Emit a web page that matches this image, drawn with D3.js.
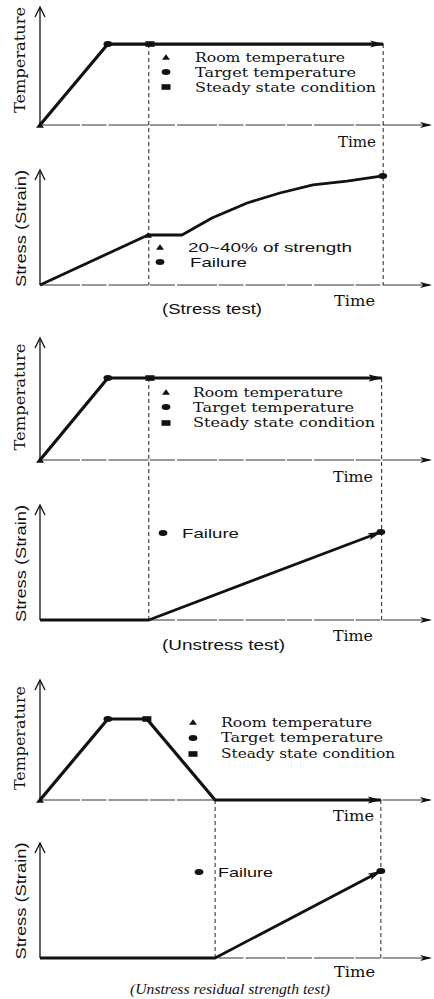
<!DOCTYPE html>
<html><head><meta charset="utf-8">
<script src="https://cdn.jsdelivr.net/npm/d3@7/dist/d3.min.js"></script>
<style>body{margin:0;background:#fff}</style>
</head><body>
<script>
// ---------- data (time 0..100, level 0..100 of each panel's axis) ----------
const timeDomain = [0, 100];
const levelDomain = [0, 100];
const tempStress     = [[0,0],[17.4,68.6],[28.2,68.6],[88,68.6]];
const tempStressKinds = ["triangle","circle","square",null];
const strainStress   = [[0,0],[27.7,43.5],[36.4,43.5],[44.1,58.3],[53.1,71.3],[61.5,80],[70,87],[78.7,90.4],[87.9,94.8]];
const strainStressKinds = [null,"triangle",null,null,null,null,null,null,"circle"];
const tempUnstress   = [[0,0],[17.4,67.2],[28.2,67.2],[87.6,67.2]];
const tempUnstressKinds = ["triangle","circle","square",null];
const strainUnstress = [[0,0],[27.9,0],[87.4,76.5]];
const strainUnstressKinds = [null,null,"circle"];
const tempResidual   = [[0,0],[17.4,67.5],[27.4,67.5],[44.9,0],[87.4,0]];
const tempResidualKinds = ["triangle","circle","square",null,null];
const strainResidual = [[0,0],[44.9,0],[87.4,75.7]];
const strainResidualKinds = [null,null,"circle"];
const guideTimes = [[27.9,88],[27.9,87.6],[44.9,87.4]];
const tempLegend = ["Room temperature","Target temperature","Steady state condition"];
const tempLegendSymbols = ["triangle","circle","square"];
const stressLegend = ["20~40% of strength","Failure"];
const stressLegendSymbols = ["triangle","circle"];
const failureLegend = ["Failure"];
const failureLegendSymbols = ["circle"];
const captions = ["(Stress test)","(Unstress test)","(Unstress residual strength test)"];
const axisLabels = ["Temperature","Stress (Strain)","Time"];

// ---------- layout ----------
const W = 434, H = 999;
const INK = "#111";
const SERIF = "'DejaVu Serif', serif";
const SERIF2 = "'Liberation Serif', 'Times New Roman', serif";
const SANS = "'Liberation Sans', Arial, sans-serif";
const svg = d3.select("body").append("svg").attr("width", W).attr("height", H);
const x = d3.scaleLinear().domain(timeDomain).range([40, 430]);

const defs = svg.append("defs");
defs.append("marker").attr("id","arrowT").attr("markerUnits","userSpaceOnUse")
  .attr("viewBox","0 0 14 8").attr("markerWidth",14).attr("markerHeight",8)
  .attr("refX",13).attr("refY",4).attr("orient","auto")
  .append("path").attr("d","M0,0.5 L14,4 L0,7.5 L3,4 Z").attr("fill",INK);

const panels = [
  { temp: tempStress, tempKinds: tempStressKinds, tBox: [125, 7],
    strain: strainStress, strainKinds: strainStressKinds, sBox: [285, 170], strainArrow: false,
    guides: guideTimes[0],
    tLegX: 166, tLegY: [57,72,87], tTextX: 195, tTextY: [62,77,92], tTextW: [150,161,181],
    sLeg: stressLegend, sLegSym: stressLegendSymbols, sLegX: 160, sLegY: [247,262],
    sTextX: [188,190], sTextY: [252,267], sTextW: [164,57],
    tTime: [338,376,146.5], sTime: [334,375,306],
    cap: captions[0], capX: [162,262], capY: 314, capFont: SANS, capStyle: "normal",
    tLab: [25, 60, 106], sLab: [26, 228.5, 117] },
  { temp: tempUnstress, tempKinds: tempUnstressKinds, tBox: [460, 338],
    strain: strainUnstress, strainKinds: strainUnstressKinds, sBox: [620, 505], strainArrow: true,
    guides: guideTimes[1],
    tLegX: 166, tLegY: [392,407,423], tTextX: 193, tTextY: [396.5,411.5,427], tTextW: [150,161,182],
    sLeg: failureLegend, sLegSym: failureLegendSymbols, sLegX: 163, sLegY: [533],
    sTextX: [182], sTextY: [538], sTextW: [57],
    tTime: [333,373,482], sTime: [333,373,641],
    cap: captions[1], capX: [162,285], capY: 650, capFont: SANS, capStyle: "normal",
    tLab: [25, 397, 107], sLab: [26, 563.5, 117] },
  { temp: tempResidual, tempKinds: tempResidualKinds, tBox: [800, 680],
    strain: strainResidual, strainKinds: strainResidualKinds, sBox: [958, 843], strainArrow: true,
    guides: guideTimes[2],
    tLegX: 193, tLegY: [722,738,754], tTextX: 221, tTextY: [726.5,742,758], tTextW: [151,162,174],
    sLeg: failureLegend, sLegSym: failureLegendSymbols, sLegX: 199, sLegY: [872],
    sTextX: [218], sTextY: [877], sTextW: [55],
    tTime: [333,374,821], sTime: [334,375,977],
    cap: captions[2], capX: [130,330], capY: 994, capFont: SERIF2, capStyle: "italic",
    tLab: [25, 738, 104], sLab: [26, 901, 117] }
];

function sym(g, kind, cx, cy) {
  if (kind === "circle") g.append("ellipse").attr("cx",cx).attr("cy",cy).attr("rx",4.4).attr("ry",3).attr("fill",INK);
  else if (kind === "triangle") g.append("path").attr("d",`M${cx-4},${cy+2.8} L${cx},${cy-2.8} L${cx+4},${cy+2.8} Z`).attr("fill",INK);
  else if (kind === "square") g.append("rect").attr("x",cx-4.5).attr("y",cy-2.8).attr("width",9).attr("height",5.6).attr("fill",INK);
}
function txt(g, s, xx, yy, w, font, size, style, anchor) {
  const t = g.append("text").attr("x",xx).attr("y",yy).text(s)
    .attr("font-family",font).attr("font-size",size).attr("fill",INK)
    .attr("font-style",style||"normal").attr("text-anchor",anchor||"start");
  if (w) t.attr("textLength",w).attr("lengthAdjust","spacingAndGlyphs");
  return t;
}
function interp(series, t) {
  for (let i = 1; i < series.length; i++) {
    const a = series[i-1], b = series[i];
    if (t >= a[0] && t <= b[0]) return a[1] + (b[1]-a[1]) * (t-a[0]) / ((b[0]-a[0]) || 1);
  }
  return series[series.length-1][1];
}
function axes(g, base, top) {
  g.append("line").attr("x1",x(0)).attr("x2",x(0)).attr("y1",base).attr("y2",top+1)
    .attr("stroke",INK).attr("stroke-width",1.3);
  g.append("path").attr("d",`M${x(0)-5},${top+10} L${x(0)},${top} L${x(0)+5},${top+10}`)
    .attr("fill","none").attr("stroke",INK).attr("stroke-width",1.3);
  g.append("line").attr("x1",x(0)).attr("x2",x(100)).attr("y1",base).attr("y2",base)
    .attr("stroke","#333").attr("stroke-width",1.1).attr("stroke-dasharray","40,1.5,25,2");
  g.append("path").attr("d",`M${x(100)-10},${base-3} L${x(100)+2},${base} L${x(100)-10},${base+3} L${x(100)-7},${base} Z`)
    .attr("fill",INK);
}

panels.forEach(p => {
  const g = svg.append("g");
  const yT = d3.scaleLinear().domain(levelDomain).range(p.tBox);
  const yS = d3.scaleLinear().domain(levelDomain).range(p.sBox);
  axes(g, p.tBox[0], p.tBox[1]);
  axes(g, p.sBox[0], p.sBox[1]);

  p.guides.forEach(t => {
    g.append("line").attr("x1",x(t)).attr("x2",x(t))
      .attr("y1",yT(interp(p.temp,t))).attr("y2",p.sBox[0])
      .attr("stroke","#222").attr("stroke-width",1).attr("stroke-dasharray","4,3");
  });

  const line = y => d3.line().x(d => x(d[0])).y(d => y(d[1]));
  g.append("path").datum(p.temp).attr("d",line(yT)).attr("fill","none")
    .attr("stroke",INK).attr("stroke-width",3.2).attr("stroke-linejoin","round")
    .attr("marker-end","url(#arrowT)");
  const sp = g.append("path").datum(p.strain).attr("d",line(yS)).attr("fill","none")
    .attr("stroke",INK).attr("stroke-width",2.8).attr("stroke-linejoin","round");
  if (p.strainArrow) sp.attr("marker-end","url(#arrowT)");

  p.temp.forEach((d,i) => sym(g, p.tempKinds[i], x(d[0]), yT(d[1])));
  p.strain.forEach((d,i) => sym(g, p.strainKinds[i], x(d[0]), yS(d[1])));

  tempLegend.forEach((s,i) => {
    sym(g, tempLegendSymbols[i], p.tLegX, p.tLegY[i]);
    txt(g, s, p.tTextX, p.tTextY[i], p.tTextW[i], SERIF, 13);
  });
  p.sLeg.forEach((s,i) => {
    sym(g, p.sLegSym[i], p.sLegX, p.sLegY[i]);
    txt(g, s, p.sTextX[i], p.sTextY[i], p.sTextW[i], SANS, 13);
  });

  txt(g, axisLabels[2], p.tTime[0], p.tTime[2], p.tTime[1]-p.tTime[0], SERIF, 14);
  txt(g, axisLabels[2], p.sTime[0], p.sTime[2], p.sTime[1]-p.sTime[0], SERIF, 14);
  txt(g, axisLabels[0], 0, 0, p.tLab[2], SERIF, 15, "normal", "middle")
    .attr("transform", `translate(${p.tLab[0]},${p.tLab[1]}) rotate(-90)`);
  txt(g, axisLabels[1], 0, 0, p.sLab[2], SANS, 15, "normal", "middle")
    .attr("transform", `translate(${p.sLab[0]},${p.sLab[1]}) rotate(-90)`);

  txt(g, p.cap, p.capX[0], p.capY, p.capX[1]-p.capX[0], p.capFont, 15, p.capStyle);
});
</script>
</body></html>
